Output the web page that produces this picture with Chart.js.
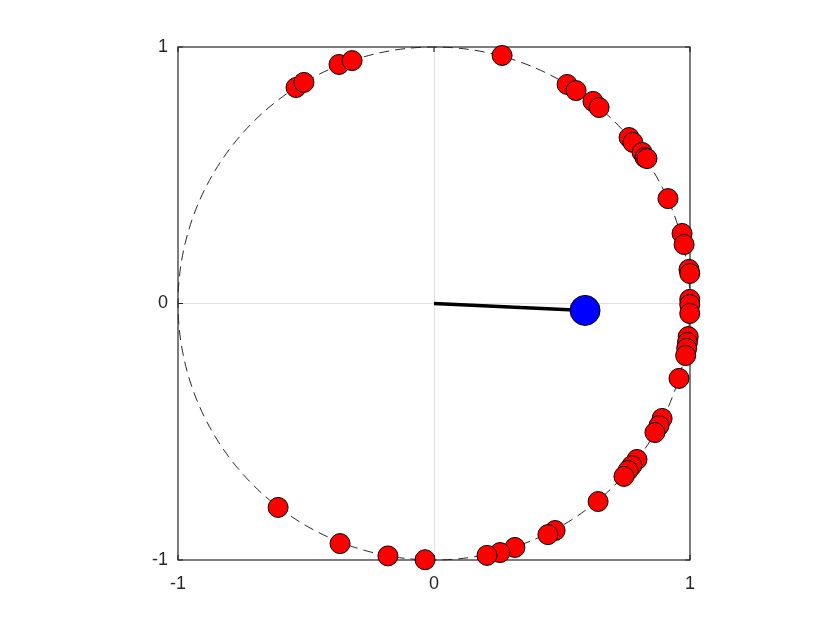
<!DOCTYPE html>
<html><head><meta charset="utf-8">
<script src="https://cdn.jsdelivr.net/npm/chart.js@4.4.1/dist/chart.umd.min.js"></script>
<style>html,body{margin:0;padding:0;background:#fff}#wrap{width:840px;height:630px}</style>
</head><body><div id="wrap"><canvas id="c" width="840" height="630"></canvas></div>
<script>
const tickValues = [-1, 0, 1];
const pointsX = [0.266,0.520,0.555,0.621,0.645,0.762,0.777,0.813,0.824,0.832,0.914,0.969,0.977,0.996,0.999,0.999,0.999,0.999,0.993,0.990,0.987,0.983,0.957,0.891,0.879,0.863,0.793,0.773,0.758,0.742,0.641,0.473,0.445,0.316,0.258,0.207,-0.035,-0.180,-0.367,-0.609,-0.539,-0.508,-0.371,-0.320];
const pointsY = [0.967,0.854,0.830,0.788,0.764,0.647,0.628,0.589,0.569,0.565,0.409,0.273,0.230,0.133,0.117,0.016,-0.004,-0.039,-0.129,-0.152,-0.175,-0.203,-0.292,-0.448,-0.476,-0.503,-0.608,-0.632,-0.651,-0.674,-0.772,-0.885,-0.901,-0.951,-0.971,-0.982,-0.999,-0.984,-0.936,-0.795,0.842,0.862,0.932,0.947];
const meanX = [0.590];
const meanY = [-0.027];
const circleRadius = 1;

const redData = pointsX.map((x,i)=>({x:x,y:pointsY[i]}));
const lineData = [{x:0,y:0},{x:meanX[0],y:meanY[0]}];
const blueData = [{x:meanX[0],y:meanY[0]}];

const boxPlugin = {
  id:'box',
  beforeDatasetsDraw(chart){
    const ctx=chart.ctx, xs=chart.scales.x, ys=chart.scales.y;
    const cx=xs.getPixelForValue(0), cy=ys.getPixelForValue(0);
    const rx=Math.abs(xs.getPixelForValue(circleRadius)-cx), ry=Math.abs(ys.getPixelForValue(circleRadius)-cy);
    ctx.save();
    ctx.strokeStyle='#111';ctx.lineWidth=0.9;ctx.setLineDash([10,6]);
    ctx.beginPath();ctx.ellipse(cx,cy,rx,ry,0,0,Math.PI*2);ctx.stroke();
    ctx.setLineDash([]);
    const a=chart.chartArea;
    ctx.strokeStyle='#262626';ctx.lineWidth=1.2;
    ctx.strokeRect(a.left,a.top,a.right-a.left,a.bottom-a.top);
    // inward tick marks
    ctx.beginPath();
    tickValues.forEach(v=>{
      const px=xs.getPixelForValue(v), py=ys.getPixelForValue(v);
      ctx.moveTo(px,a.bottom);ctx.lineTo(px,a.bottom-5);
      ctx.moveTo(px,a.top);ctx.lineTo(px,a.top+5);
      ctx.moveTo(a.left,py);ctx.lineTo(a.left+5,py);
      ctx.moveTo(a.right,py);ctx.lineTo(a.right-5,py);
    });
    ctx.stroke();
    ctx.restore();
  }
};

new Chart(document.getElementById('c'),{
  type:'scatter',
  data:{datasets:[
    {data:redData,backgroundColor:'#ff0000',borderColor:'#000',borderWidth:1,pointRadius:10,pointHoverRadius:10,clip:false,order:3},
    {type:'line',data:lineData,borderColor:'#000',borderWidth:3.5,pointRadius:0,showLine:true,fill:false,clip:false,order:2},
    {data:blueData,backgroundColor:'#0000ff',borderColor:'#000',borderWidth:1,pointRadius:15,pointHoverRadius:15,clip:false,order:1}
  ]},
  options:{
    responsive:false,animation:false,
    layout:{padding:{left:128,right:150,top:47,bottom:30}},
    plugins:{legend:{display:false},tooltip:{enabled:false}},
    scales:{
      x:{type:'linear',min:-1,max:1,
        afterBuildTicks(a){a.ticks=tickValues.map(v=>({value:v}));},
        afterFit(a){a.height=40;},
        border:{display:false},
        grid:{drawTicks:false,color:c=>c.tick&&c.tick.value===0?'#e0e0e0':'rgba(0,0,0,0)'},
        ticks:{padding:13,color:'#262626',font:{family:'Liberation Sans, Arial, sans-serif',size:18}}},
      y:{type:'linear',min:-1,max:1,
        afterBuildTicks(a){a.ticks=tickValues.map(v=>({value:v}));},
        afterFit(a){a.width=50;},
        border:{display:false},
        grid:{drawTicks:false,color:c=>c.tick&&c.tick.value===0?'#e0e0e0':'rgba(0,0,0,0)'},
        ticks:{padding:10,color:'#262626',font:{family:'Liberation Sans, Arial, sans-serif',size:18}}}
    }
  },
  plugins:[boxPlugin]
});
</script></body></html>
